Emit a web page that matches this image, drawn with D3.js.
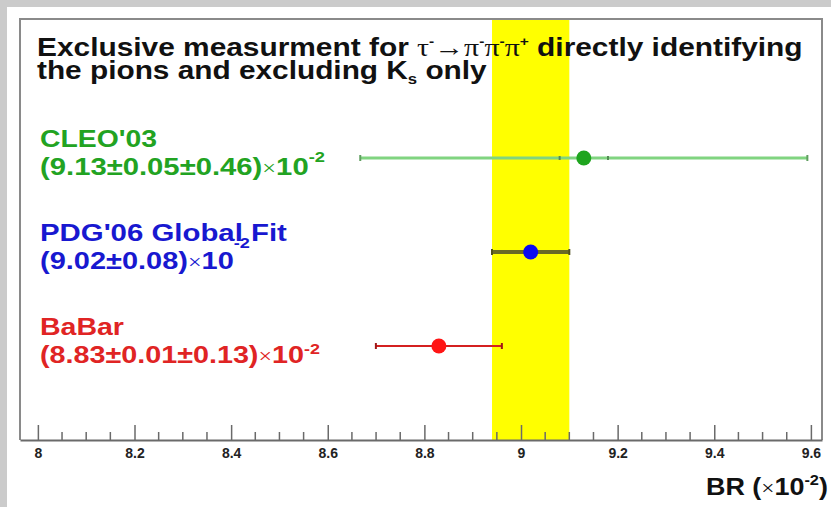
<!DOCTYPE html>
<html>
<head>
<meta charset="utf-8">
<script src="https://cdn.jsdelivr.net/npm/d3@7"></script>
<style>
  body { margin: 0; background: #cbcbcb; }
  svg { display: block; }
</style>
</head>
<body>
<div id="chart"></div>
<script>
// measurements, top to bottom
const experiments = ["CLEO'03", "PDG'06 Global Fit", "BaBar"];
const centralValues = [9.13, 9.02, 8.83];
const statErrors = [0.05, 0.08, 0.01];
const systErrors = [0.46, 0, 0.13];
const valueTexts = ['(9.13\u00b10.05\u00b10.46)', '(9.02\u00b10.08)', '(8.83\u00b10.01\u00b10.13)'];
const majorTicks = [8, 8.2, 8.4, 8.6, 8.8, 9, 9.2, 9.4, 9.6];
const tickLabels = ['8', '8.2', '8.4', '8.6', '8.8', '9', '9.2', '9.4', '9.6'];
const xDomain = [7.963, 9.623];
const bandIndex = 1; // PDG fit drawn as the yellow band

const width = 831;
const height = 507;
const frame = { left: 20, right: 822, top: 19, bottom: 440 };
const colors = ['#22a322', '#1818d0', '#e02424'];
const markerColors = ['#1fa51f', '#0a0af0', '#ff1515'];
const barColors = ['#80d480', '#6a6a26', '#d42020'];
const barWidths = [3, 4, 2];
const supShift = [13, 21, 9];
// measured text extents in the reference
const nameWidths = [117, 247, 84];
const valueWidths = [285, 210, 280];

const sans = 'Liberation Sans, Arial, Helvetica, sans-serif';
const serif = 'Liberation Serif, Times New Roman, serif';

const svg = d3.select('#chart').append('svg')
  .attr('width', width)
  .attr('height', height);

// white pad
svg.append('rect')
  .attr('x', 7).attr('y', 7)
  .attr('width', width - 7).attr('height', height - 7)
  .attr('fill', '#ffffff');

const x = d3.scaleLinear().domain(xDomain).range([frame.left, frame.right]);
const y = d3.scalePoint().domain(experiments).range([158, 346]);

const totalErr = (i) => Math.sqrt(statErrors[i] ** 2 + systErrors[i] ** 2);

// yellow band: PDG average +- error
svg.append('rect')
  .attr('x', x(centralValues[bandIndex] - totalErr(bandIndex)))
  .attr('y', frame.top)
  .attr('width', x(centralValues[bandIndex] + totalErr(bandIndex)) - x(centralValues[bandIndex] - totalErr(bandIndex)))
  .attr('height', frame.bottom - frame.top)
  .attr('fill', '#ffff00');

// frame
svg.append('path')
  .attr('d', `M${frame.left},${frame.bottom}V${frame.top}H${frame.right}V${frame.bottom}`)
  .attr('fill', 'none')
  .attr('stroke', '#8a8a8a')
  .attr('stroke-width', 2);

// axis
const minorTicks = d3.range(8, 9.6001, 0.05).filter((v) => !majorTicks.some((m) => Math.abs(m - v) < 1e-6));
const axisG = svg.append('g').attr('transform', `translate(0,${frame.bottom})`);
axisG.call(d3.axisBottom(x).tickValues(majorTicks).tickSize(-15).tickSizeOuter(0)
  .tickFormat((d, i) => tickLabels[i]));
axisG.select('.domain').attr('stroke', '#6a6a6a').attr('stroke-width', 2);
axisG.selectAll('.tick line').attr('stroke', '#6a6a6a').attr('stroke-width', 1.5);
axisG.selectAll('.tick text')
  .attr('y', 8)
  .attr('dy', '0.71em')
  .attr('font-family', sans)
  .attr('font-weight', 'bold')
  .attr('font-size', 14)
  .attr('fill', '#222');
axisG.selectAll('.minor').data(minorTicks).enter().append('line')
  .attr('class', 'minor')
  .attr('x1', (d) => x(d)).attr('x2', (d) => x(d))
  .attr('y1', 0).attr('y2', -8)
  .attr('stroke', '#6a6a6a').attr('stroke-width', 1.5);

// stretch a text node horizontally so it fills [x0, x0 + w]
const fitText = (node, x0, w) => {
  const bb = node.getBBox();
  const k = w / bb.width;
  d3.select(node).attr('transform', `translate(${x0},0) scale(${k},1) translate(${-bb.x},0)`);
};

// rich text helper: parts of {t, font, weight, size, dy}
const richText = (parent, xPos, yPos, parts, fill) => {
  const t = parent.append('text')
    .attr('x', xPos).attr('y', yPos)
    .attr('fill', fill);
  parts.forEach((p) => {
    t.append('tspan')
      .attr('font-family', p.font || sans)
      .attr('font-weight', p.weight || 'bold')
      .attr('font-size', p.size)
      .attr('dy', p.dy || 0)
      .text(p.t);
  });
  return t;
};

// title
const title1 = richText(svg, 37, 56, [
  { t: 'Exclusive measurment for ', size: 25 },
  { t: '\u03c4', font: serif, weight: 'normal', size: 25 },
  { t: '-', size: 13, dy: -10 },
  { t: '\u2192\u03c0', font: serif, weight: 'normal', size: 25, dy: 10 },
  { t: '-', size: 13, dy: -10 },
  { t: '\u03c0', font: serif, weight: 'normal', size: 25, dy: 10 },
  { t: '-', size: 13, dy: -10 },
  { t: '\u03c0', font: serif, weight: 'normal', size: 25, dy: 10 },
  { t: '+', size: 13, dy: -10 },
  { t: ' directly identifying', size: 25, dy: 10 }
], '#111');
fitText(title1.node(), 37, 766);

const title2 = richText(svg, 37, 79, [
  { t: 'the pions and excluding K', size: 25 },
  { t: 's', size: 14, dy: 5 },
  { t: ' only', size: 25, dy: -5 }
], '#111');
fitText(title2.node(), 37, 450);

// error bars
const bars = svg.append('g');
experiments.forEach((name, i) => {
  const cy = y(name);
  const lo = centralValues[i] - totalErr(i);
  const hi = centralValues[i] + totalErr(i);
  bars.append('line')
    .attr('x1', x(lo)).attr('x2', x(hi))
    .attr('y1', cy).attr('y2', cy)
    .attr('stroke', barColors[i])
    .attr('stroke-width', barWidths[i]);
  [lo, hi].forEach((v) => {
    bars.append('line')
      .attr('x1', x(v)).attr('x2', x(v))
      .attr('y1', cy - 3).attr('y2', cy + 3)
      .attr('stroke', d3.color(barColors[i]).darker(0.8))
      .attr('stroke-width', 2);
  });
  if (systErrors[i] > 0 && statErrors[i] > 0.02) {
    [centralValues[i] - statErrors[i], centralValues[i] + statErrors[i]].forEach((v) => {
      bars.append('line')
        .attr('x1', x(v)).attr('x2', x(v))
        .attr('y1', cy - 2).attr('y2', cy + 2)
        .attr('stroke', d3.color(barColors[i]).darker(1.2))
        .attr('stroke-width', 2);
    });
  }
  bars.append('circle')
    .attr('cx', x(centralValues[i]))
    .attr('cy', cy)
    .attr('r', 7.5)
    .attr('fill', markerColors[i]);
});

// labels
experiments.forEach((name, i) => {
  const cy = y(name);
  const n = richText(svg, 40, cy - 11, [{ t: name, size: 24 }], colors[i]);
  fitText(n.node(), 40, nameWidths[i]);
  const v = richText(svg, 40, cy + 17, [
    { t: valueTexts[i], size: 24 },
    { t: '\u00d7', font: serif, weight: 'normal', size: 20 },
    { t: '10', size: 24 },
    { t: '-2', size: 15, dy: -supShift[i] }
  ], colors[i]);
  fitText(v.node(), 40, valueWidths[i]);
});

// axis title
const xTitle = richText(svg, 706, 495, [
  { t: 'BR (', size: 23 },
  { t: '\u00d7', font: serif, weight: 'normal', size: 20 },
  { t: '10', size: 23 },
  { t: '-2', size: 14, dy: -10 },
  { t: ')', size: 23, dy: 10 }
], '#111');
fitText(xTitle.node(), 706, 122);
</script>
</body>
</html>
